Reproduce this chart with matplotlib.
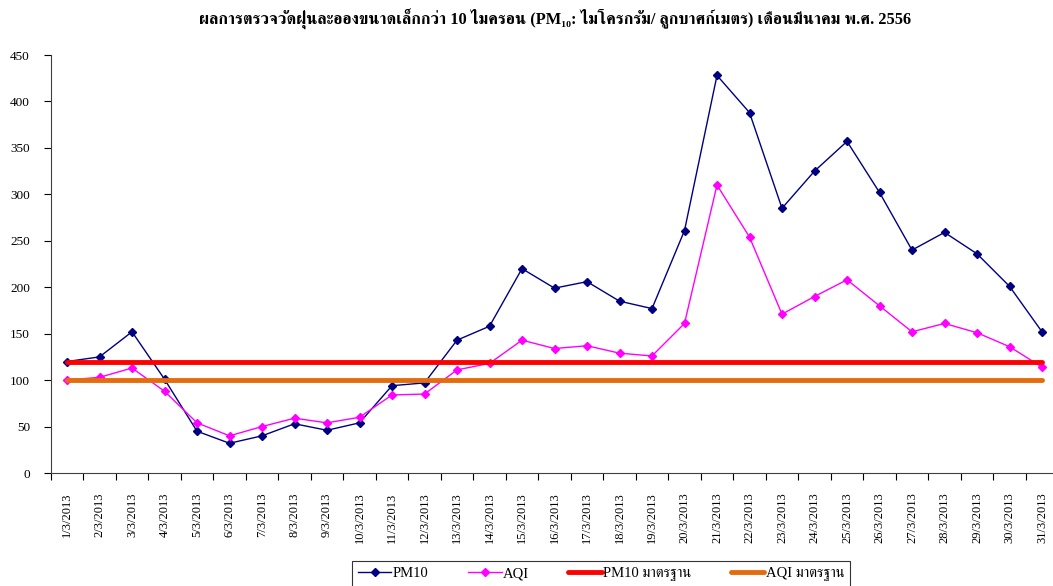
import matplotlib
matplotlib.use("Agg")
import matplotlib.pyplot as plt
from matplotlib import font_manager, ft2font

# data
dates = ["%d/3/2013" % d for d in range(1, 32)]
pm10 = [120, 125, 152, 101, 45, 32, 40, 53, 46, 54, 94, 97, 143, 158, 220,
        199, 206, 185, 177, 261, 428, 388, 285, 325, 357, 302, 240, 259, 236, 201, 152]
aqi = [100, 103, 113, 88, 54, 40, 50, 59, 54, 60, 84, 85, 111, 118, 143,
       134, 137, 129, 126, 161, 310, 254, 171, 190, 208, 180, 152, 161, 151, 136, 114]
pm10_std = 120
aqi_std = 100
yticks = list(range(0, 451, 50))

title = "ผลการตรวจวัดฝุ่นละอองขนาดเล็กกว่า 10 ไมครอน (PM₁₀: ไมโครกรัม/ ลูกบาศก์เมตร) เดือนมีนาคม พ.ศ. 2556"
legend_labels = ["PM10", "AQI", "PM10 มาตรฐาน", "AQI มาตรฐาน"]

# find a font that can draw Thai
thai_fonts = []
for path in font_manager.findSystemFonts():
    try:
        f = ft2font.FT2Font(path)
        if 0x0E01 in f.get_charmap():
            font_manager.fontManager.addfont(path)
            thai_fonts.append(font_manager.FontProperties(fname=path).get_name())
    except Exception:
        pass
thai_fonts.sort(key=lambda n: 0 if "Serif" in n else 1)

plt.rcParams["font.family"] = ["Liberation Serif"] + thai_fonts[:1] + ["DejaVu Serif", "DejaVu Sans"]

fig = plt.figure(figsize=(10.53, 5.86), dpi=100)
ax = fig.add_axes([50.75 / 1053, 113 / 586, 1007.5 / 1053, 418 / 586])

x = list(range(len(dates)))
ax.plot(x, pm10, color="#000080", lw=1.0, marker="D", ms=4.5, label=legend_labels[0])
ax.plot(x, aqi, color="#FF00FF", lw=1.0, marker="D", ms=4.5, label=legend_labels[1])
ax.plot(x, [pm10_std] * len(x), color="#FF0000", lw=3.5, solid_capstyle="round", label=legend_labels[2])
ax.plot(x, [aqi_std] * len(x), color="#E46C0A", lw=3.5, solid_capstyle="round", label=legend_labels[3])

ax.set_xlim(-0.5, len(dates) - 0.5)
ax.set_ylim(0, 450)
ax.set_yticks(yticks)
ax.tick_params(axis="y", labelsize=9.5, length=5, direction="out", pad=10)

ax.set_xticks([i + 0.5 for i in range(-1, len(dates))])
ax.set_xticklabels([])
ax.set_xticks(x, minor=True)
ax.set_xticklabels(dates, minor=True, rotation=90, fontsize=9)
ax.tick_params(axis="x", which="major", length=5, direction="out")
ax.tick_params(axis="x", which="minor", length=0, pad=14)

for s in ["top", "right"]:
    ax.spines[s].set_visible(False)
for s in ["left", "bottom"]:
    ax.spines[s].set_color("#404040")

fig.text(555 / 1053, 1 - 18 / 586, title, ha="center", va="center", fontsize=11.8, fontweight="bold")

leg = fig.legend(loc="upper left", bbox_to_anchor=(352 / 1053, 1 - 561 / 586), ncol=4,
                 fontsize=10.5, frameon=True, fancybox=False, edgecolor="black",
                 handlelength=2.3, handletextpad=0.1, columnspacing=2.7, borderpad=0.4,
                 borderaxespad=0)
leg.get_frame().set_linewidth(0.8)

fig.savefig("out.png", dpi=100)
